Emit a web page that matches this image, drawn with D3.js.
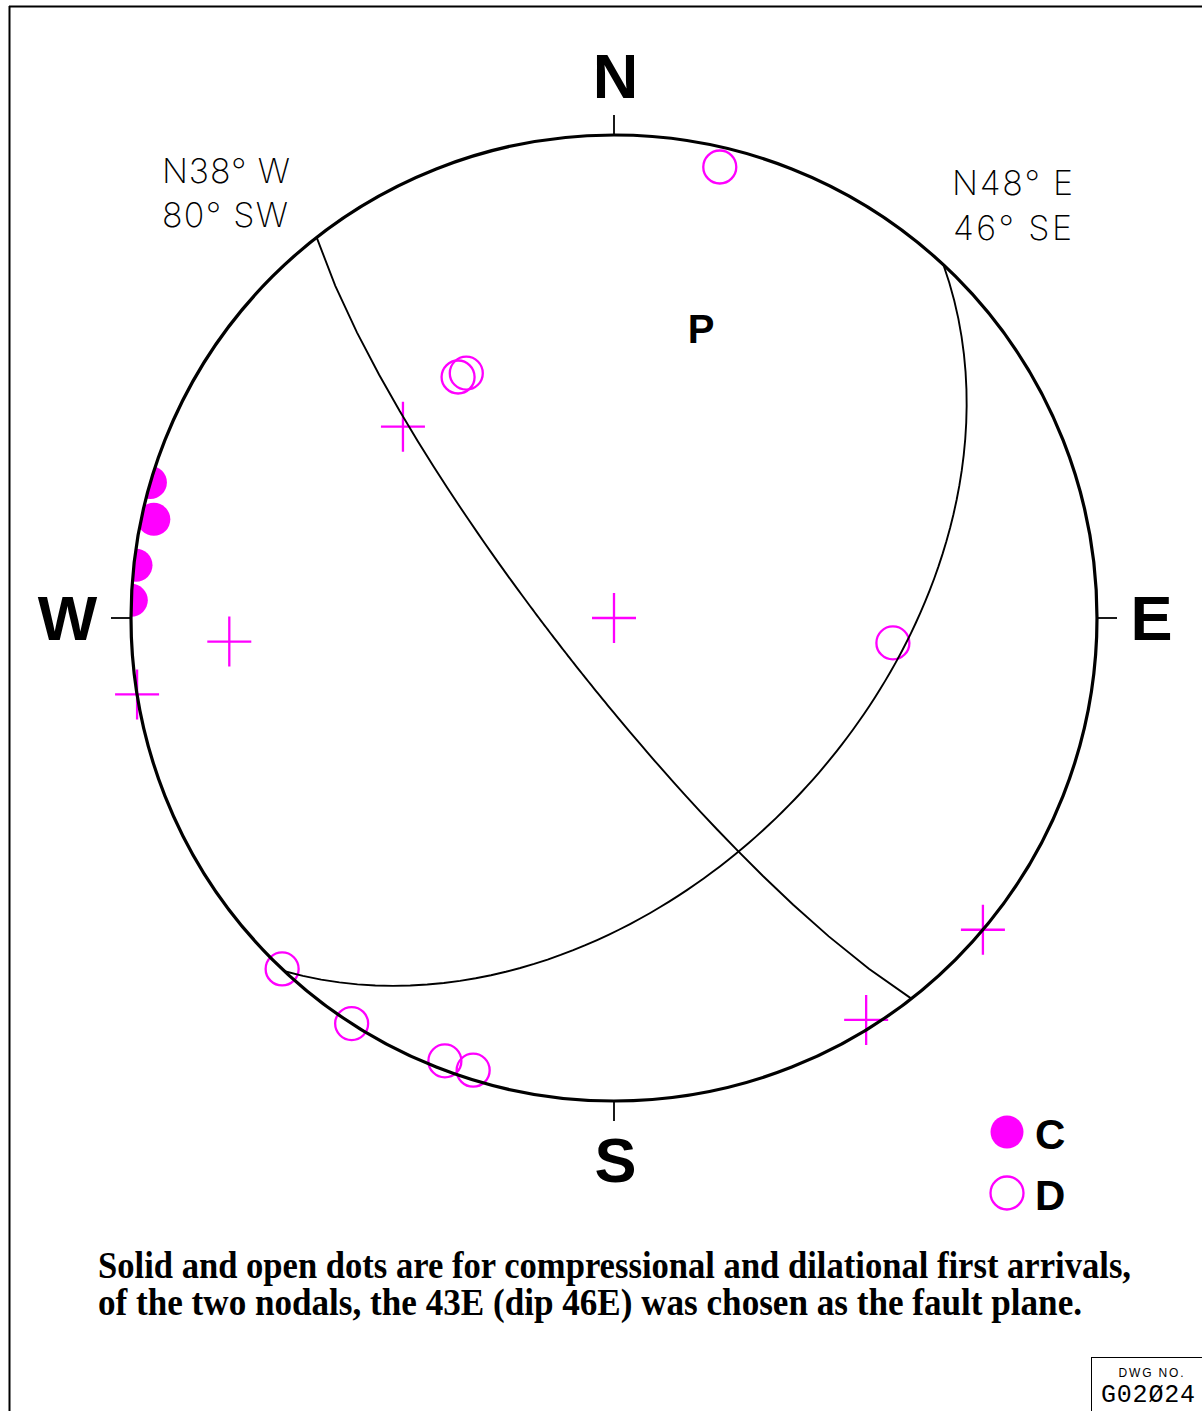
<!DOCTYPE html>
<html>
<head>
<meta charset="utf-8">
<script src="https://cdn.jsdelivr.net/npm/d3@7"></script>
<style>
  body { margin: 0; background: #fff; }
  svg { display: block; }
</style>
</head>
<body>
<svg id="chart" width="1202" height="1411"></svg>
<script>
// First-motion polarities, lower-hemisphere equal-area net.
// Each station: [azimuth (deg from N), take-off angle (deg from vertical)]
const compressions = [[286.3, 90], [282.1, 87.1], [276.3, 89.5], [272.1, 90]];
const dilatations = [[13.2, 85.4], [327.1, 49.7], [328.9, 49.5], [95.1, 48.4],
                     [223.4, 90], [212.9, 90], [200.9, 87.9], [197.3, 87.8]];
const nodalReadings = [[0, 0], [266.5, 68.7], [260.9, 90], [312.2, 49.3],
                       [130.2, 90], [147.9, 88.0]];

// Nodal planes: strike (deg), dip (deg), dip direction (deg)
const planeStrikes = [322, 43];
const planeDips = [80, 46];
const planeDipDirections = [232, 133];
const planeLabels = [["N38° W", "80° SW"], ["N48° E", "46° SE"]];

const cardinalNames = ["N", "E", "S", "W"];
const cardinalAzimuths = [0, 90, 180, 270];

const legendNames = ["C", "D"];
const captionLines = [
  "Solid and open dots are for compressional and dilational first arrivals,",
  "of the two nodals, the 43E (dip 46E) was chosen as the fault plane."
];

const MAGENTA = "#ff00ff";
const cx = 614, cy = 618, R = 483;

const svg = d3.select("#chart");
const rScale = d3.scaleLinear().domain([0, 1]).range([0, R]);
const toRad = d3.scaleLinear().domain([0, 180]).range([0, Math.PI]);

// equal-area projection of a direction given by azimuth and angular distance from vertical
function project(az, dist) {
  const r = rScale(Math.SQRT2 * Math.sin(toRad(dist) / 2));
  return [cx + r * Math.sin(toRad(az)), cy - r * Math.cos(toRad(az))];
}

// frame
svg.append("line").attr("x1", 9).attr("y1", 6.5).attr("x2", 1202).attr("y2", 6.5)
  .attr("stroke", "#000").attr("stroke-width", 2);
svg.append("line").attr("x1", 9.5).attr("y1", 6).attr("x2", 9.5).attr("y2", 1411)
  .attr("stroke", "#000").attr("stroke-width", 2);

// clip for solid dots
svg.append("defs").append("clipPath").attr("id", "net-clip")
  .append("circle").attr("cx", cx).attr("cy", cy).attr("r", R);

// stations
const stations = svg.append("g");
stations.append("g").attr("clip-path", "url(#net-clip)")
  .selectAll("circle").data(compressions).join("circle")
  .attr("cx", d => project(d[0], d[1])[0])
  .attr("cy", d => project(d[0], d[1])[1])
  .attr("r", 16.5).attr("fill", MAGENTA);

stations.append("g").selectAll("circle").data(dilatations).join("circle")
  .attr("cx", d => project(d[0], d[1])[0])
  .attr("cy", d => project(d[0], d[1])[1])
  .attr("r", 16.5).attr("fill", "none").attr("stroke", MAGENTA).attr("stroke-width", 2.3);

stations.append("g").selectAll("path").data(nodalReadings).join("path")
  .attr("d", d => {
    const [x, y] = project(d[0], d[1]);
    return `M${x - 22},${y}H${x + 22}M${x},${y - 25}V${y + 25}`;
  })
  .attr("fill", "none").attr("stroke", MAGENTA).attr("stroke-width", 2.3);

// primitive circle
svg.append("circle").attr("cx", cx).attr("cy", cy).attr("r", R)
  .attr("fill", "none").attr("stroke", "#000").attr("stroke-width", 3.2);

// nodal planes as great circles
const line = d3.line().curve(d3.curveLinear);
planeStrikes.forEach((strike, i) => {
  const dip = planeDips[i];
  const side = Math.sign(Math.sin(toRad(planeDipDirections[i] - strike)));
  const pts = d3.range(0, 180.001, 2).map(t => {
    const p = Math.atan(Math.tan(toRad(dip)) * Math.sin(toRad(t))) * 180 / Math.PI;
    return project(strike + side * t, 90 - p);
  });
  svg.append("path").attr("d", line(pts))
    .attr("fill", "none").attr("stroke", "#000").attr("stroke-width", 1.9);
});

// plane labels
const labelFont = "Inter, Lato, 'DejaVu Sans', sans-serif";
const labelSpots = [
  [{x: 162, y: 183, w: 128}, {x: 162, y: 227, w: 126}],
  [{x: 952, y: 195, w: 121}, {x: 953, y: 240, w: 119}]
];
planeLabels.forEach((lines, i) => {
  lines.forEach((txt, j) => {
    const s = labelSpots[i][j];
    svg.append("text").attr("x", s.x).attr("y", s.y).text(txt)
      .attr("font-family", labelFont).attr("font-weight", 200)
      .attr("font-size", 34).attr("fill", "#000")
      .attr("textLength", s.w).attr("lengthAdjust", "spacing");
  });
});

// cardinal ticks and letters
cardinalAzimuths.forEach((az, i) => {
  const s = Math.sin(toRad(az)), c = Math.cos(toRad(az));
  const [x1, y1] = project(az, 90);
  svg.append("line").attr("x1", x1).attr("y1", y1)
    .attr("x2", cx + (R + 20) * s).attr("y2", cy - (R + 20) * c)
    .attr("stroke", "#000").attr("stroke-width", 1.8);
  const lx = cx + 542 * s - 4.5 * Math.abs(s) + 1.5 * Math.abs(c);
  const ly = cy - 542 * c;
  svg.append("text").attr("x", lx).attr("y", ly).text(cardinalNames[i])
    .attr("text-anchor", "middle").attr("dominant-baseline", "central")
    .attr("font-family", "'Liberation Sans', Arial, sans-serif")
    .attr("font-weight", "bold").attr("font-size", 63).attr("fill", "#000");
});

// P axis label
svg.append("text").attr("x", 701).attr("y", 343).text("P")
  .attr("text-anchor", "middle")
  .attr("font-family", "'Liberation Sans', Arial, sans-serif")
  .attr("font-weight", "bold").attr("font-size", 40).attr("fill", "#000");

// legend
const legend = svg.append("g");
legendNames.forEach((name, i) => {
  const y = 1132 + i * 61;
  legend.append("circle").attr("cx", 1007).attr("cy", y).attr("r", 16.5)
    .attr("fill", i === 0 ? MAGENTA : "#fff")
    .attr("stroke", MAGENTA).attr("stroke-width", i === 0 ? 0 : 2.3);
  legend.append("text").attr("x", 1035).attr("y", y + 2).text(name)
    .attr("dominant-baseline", "central")
    .attr("font-family", "'Liberation Sans', Arial, sans-serif")
    .attr("font-weight", "bold").attr("font-size", 42).attr("fill", "#000");
});

// caption
const captionWidths = [1033, 984];
captionLines.forEach((txt, i) => {
  svg.append("text").attr("x", 98).attr("y", 1278 + i * 37).text(txt)
    .attr("font-family", "'Liberation Serif', 'Times New Roman', serif")
    .attr("font-weight", "bold").attr("font-size", 37).attr("fill", "#000")
    .attr("textLength", captionWidths[i]).attr("lengthAdjust", "spacingAndGlyphs");
});

// drawing number block
svg.append("line").attr("x1", 1091.5).attr("y1", 1357.5).attr("x2", 1091.5).attr("y2", 1411)
  .attr("stroke", "#000").attr("stroke-width", 1);
svg.append("line").attr("x1", 1091).attr("y1", 1357.5).attr("x2", 1202).attr("y2", 1357.5)
  .attr("stroke", "#000").attr("stroke-width", 1);
svg.append("text").attr("x", 1151).attr("y", 1377).text("DWG  NO.")
  .attr("text-anchor", "middle")
  .attr("font-family", "'Liberation Sans', Arial, sans-serif")
  .attr("font-size", 12).attr("fill", "#000")
  .attr("textLength", 65).attr("lengthAdjust", "spacing");
svg.append("text").attr("x", 1101).attr("y", 1402).text("G02Ø24")
  .attr("font-family", "'Liberation Mono', 'DejaVu Sans Mono', monospace")
  .attr("font-size", 25).attr("fill", "#000")
  .attr("textLength", 94).attr("lengthAdjust", "spacing");
</script>
</body>
</html>
